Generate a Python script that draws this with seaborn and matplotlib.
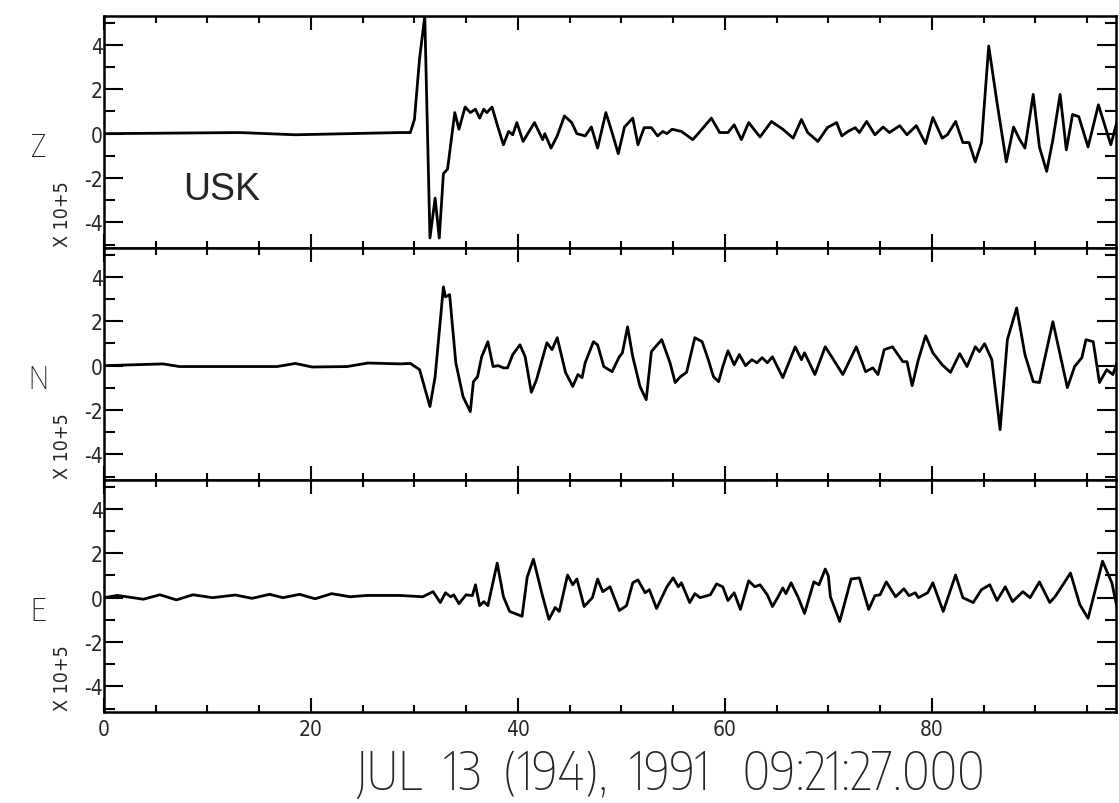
import matplotlib
matplotlib.use("Agg")
import numpy as np
import pandas as pd
import matplotlib.pyplot as plt
import seaborn as sns
from matplotlib.ticker import MultipleLocator
from matplotlib import font_manager as fm

# ---------------- data ----------------
t_z = [0, 13.1, 18.5, 28.6, 29.6, 30.0, 30.5, 31.0, 31.5, 32.0, 32.4, 32.8, 33.2, 33.9,
       34.3, 34.9, 35.4, 35.9, 36.3, 36.7, 37.0, 37.5, 38.0, 38.6, 39.1, 39.5, 39.9,
       40.5, 41.6, 42.4, 42.6, 43.2, 43.8, 44.5, 45.2, 45.7, 46.5, 47.1, 47.7, 48.5,
       49.1, 49.7, 50.3, 51.1, 51.6, 52.2, 52.9, 53.5, 54.0, 54.4, 54.9, 55.8, 56.9,
       57.6, 58.7, 59.5, 60.3, 60.9, 61.6, 62.3, 63.4, 64.5, 65.6, 66.6, 67.4, 68.0,
       69.0, 69.9, 70.8, 71.3, 71.9, 72.6, 73.0, 73.7, 74.5, 75.3, 75.9, 76.9, 77.6,
       78.5, 79.4, 80.1, 81.0, 81.5, 82.3, 83.0, 83.6, 84.2, 84.8, 85.5, 86.3, 87.2,
       87.9, 88.5, 89.0, 89.8, 90.4, 91.1, 91.7, 92.4, 93.0, 93.6, 94.2, 95.1, 96.1,
       97.3, 97.9]
z_amp = [0, 0.05, -0.05, 0.05, 0.05, 0.64, 3.4, 5.3, -4.7, -2.9, -4.7, -1.8, -1.6, 0.95,
         0.2, 1.2, 0.95, 1.1, 0.7, 1.1, 0.95, 1.2, 0.4, -0.5, 0.1, -0.05, 0.5,
         -0.35, 0.5, -0.27, 0, -0.65, -0.1, 0.8, 0.5, 0, -0.1, 0.3, -0.65, 0.95,
         0.05, -0.9, 0.3, 0.7, -0.5, 0.27, 0.27, -0.1, 0.1, 0, 0.2, 0.1, -0.27,
         0.1, 0.7, 0.05, 0.05, 0.4, -0.27, 0.5, -0.15, 0.55, 0.2, -0.2, 0.64, 0.05,
         -0.35, 0.27, 0.5, -0.1, 0.1, 0.27, 0.05, 0.55, -0.05, 0.3, 0.05, 0.36, -0.05,
         0.36, -0.45, 0.73, -0.2, -0.05, 0.55, -0.4, -0.4, -1.27, -0.4, 3.95, 1.4, -1.27,
         0.3, -0.27, -0.65, 1.77, -0.6, -1.7, -0.27, 1.77, -0.73, 0.86, 0.77, -0.6, 1.3,
         -0.5, 0.55]

t_n = [0, 5.7, 7.3, 12.8, 16.7, 18.5, 20.1, 23.5, 25.5, 28.6, 29.6, 30.5, 31.5, 32.0,
       32.8, 33.0, 33.4, 34.0, 34.7, 35.4, 35.7, 36.1, 36.5, 37.1, 37.6, 38.1, 38.6,
       39.0, 39.5, 40.2, 40.7, 41.3, 41.8, 42.8, 43.3, 43.8, 44.6, 45.3, 45.8, 46.2,
       46.5, 47.3, 47.7, 48.3, 49.1, 49.8, 50.1, 50.6, 51.1, 51.8, 52.4, 52.9, 53.2,
       53.9, 54.7, 55.2, 55.7, 56.3, 57.1, 57.8, 58.4, 58.9, 59.4, 59.8, 60.3, 60.9,
       61.4, 62.0, 62.6, 63.1, 63.6, 64.1, 64.6, 65.6, 66.8, 67.4, 67.7, 68.7, 69.7,
       70.5, 71.4, 72.7, 73.6, 74.3, 74.8, 75.4, 76.2, 77.2, 77.6, 78.1, 78.7, 79.4,
       80.1, 81.0, 81.8, 82.7, 83.4, 84.2, 84.6, 85.1, 85.8, 86.6, 87.3, 88.2, 89.0,
       89.8, 90.4, 91.7, 93.1, 93.8, 94.5, 94.9, 95.6, 96.2, 96.9, 97.5, 98.0]
n_amp = [0, 0.08, -0.04, -0.04, -0.04, 0.1, -0.06, -0.04, 0.12, 0.08, 0.1, -0.18, -1.84, -0.5,
         3.55, 3.1, 3.2, 0.13, -1.4, -2.07, -0.72, -0.5, 0.4, 1.08, -0.04, 0, -0.1,
         -0.1, 0.5, 0.94, 0.4, -1.2, -0.63, 1.03, 0.72, 1.26, -0.3, -0.94, -0.4, -0.54,
         0.13, 1.08, 0.94, -0.04, -0.27, 0.4, 0.58, 1.75, 0.4, -0.94, -1.53, 0.63, 0.8,
         1.17, 0.13, -0.76, -0.5, -0.3, 1.26, 1.08, 0.27, -0.5, -0.72, -0.04, 0.67, 0.04,
         0.5, 0, 0.27, 0.13, 0.36, 0.13, 0.4, -0.54, 0.85, 0.27, 0.58, -0.4, 0.85,
         0.27, -0.4, 0.85, -0.27, -0.1, -0.4, 0.72, 0.85, 0.18, 0.18, -0.9, 0.27, 1.35,
         0.58, 0.04, -0.3, 0.54, -0.04, 0.85, 0.63, 0.99, 0.27, -2.88, 1.17, 2.6, 0.5,
         -0.72, -0.76, 1.98, -0.99, -0.04, 0.36, 1.17, 1.08, -0.76, -0.18, -0.4, 0.27]

t_e = [0, 1.3, 3.8, 5.4, 7.0, 8.6, 10.5, 12.7, 14.3, 16.0, 17.3, 18.9, 20.4, 22.0,
       23.8, 25.4, 28.6, 30.8, 31.8, 32.5, 33.0, 33.5, 33.8, 34.3, 35.0, 35.6, 35.9,
       36.3, 36.7, 37.1, 38.0, 38.6, 39.2, 40.4, 40.9, 41.5, 42.4, 43.0, 43.6, 44.0,
       44.8, 45.3, 45.7, 46.4, 47.2, 47.7, 48.2, 48.9, 49.8, 50.5, 51.1, 51.6, 52.3,
       52.7, 53.4, 54.4, 55.0, 55.5, 55.8, 56.6, 57.1, 57.6, 58.6, 59.2, 59.8, 60.3,
       60.9, 61.5, 62.3, 62.9, 63.4, 64.1, 64.6, 65.1, 65.6, 65.9, 66.4, 67.1, 67.7,
       68.6, 69.1, 69.7, 70.0, 70.2, 71.1, 72.2, 73.0, 73.9, 74.5, 75.0, 75.6, 76.5,
       77.3, 77.8, 78.4, 78.7, 79.6, 80.1, 81.1, 82.3, 83.0, 84.0, 84.8, 85.6, 86.3,
       87.1, 87.8, 88.8, 89.5, 90.4, 91.4, 91.9, 92.6, 93.4, 94.3, 95.1, 96.5, 97.4,
       98.0]
e_amp = [0, 0.1, -0.07, 0.13, -0.1, 0.13, 0, 0.12, -0.03, 0.15, 0, 0.15, -0.05, 0.18,
         0.04, 0.1, 0.1, 0.04, 0.27, -0.22, 0.22, 0.04, 0.13, -0.27, 0.13, 0.09, 0.58,
         -0.36, -0.18, -0.36, 1.56, 0.04, -0.62, -0.84, 0.93, 1.73, 0.04, -0.98, -0.44, -0.62,
         1.02, 0.58, 0.84, -0.4, 0, 0.84, 0.27, 0.49, -0.58, -0.36, 0.67, 0.8, 0.22,
         0.36, -0.49, 0.49, 0.89, 0.49, 0.67, -0.22, 0.18, 0, 0.13, 0.62, 0.49, -0.13,
         0.22, -0.53, 0.76, 0.49, 0.58, 0.13, -0.4, 0, 0.44, 0.18, 0.67, 0, -0.71,
         0.71, 0.58, 1.29, 0.98, 0.04, -1.07, 0.84, 0.89, -0.53, 0.09, 0.13, 0.71, 0.04,
         0.4, 0.09, 0.22, 0, 0.22, 0.67, -0.62, 1.02, 0, -0.22, 0.36, 0.58, -0.13,
         0.49, -0.18, 0.27, 0, 0.71, -0.22, 0.04, 0.53, 1.11, -0.31, -0.93, 1.64, 0.67,
         -0.67]

components = ["Z", "N", "E"]
x_ticks = [0, 20, 40, 60, 80]
y_ticks = [-4, -2, 0, 2, 4]
station = "USK"
title = "JUL  13  (194),  1991   09:21:27.000"
scale_label = "X 10+5"

assert len(t_z) == len(z_amp) and len(t_n) == len(n_amp) and len(t_e) == len(e_amp)

frames = {
    "Z": pd.DataFrame({"t": t_z, "amp": z_amp}),
    "N": pd.DataFrame({"t": t_n, "amp": n_amp}),
    "E": pd.DataFrame({"t": t_e, "amp": e_amp}),
}

# ---------------- style ----------------
sns.set_style("ticks")


def _is_narrow(f):
    if "Narrow" in f.name or "Condensed" in f.name:
        return True
    st = f.stretch
    if isinstance(st, str):
        return "condensed" in st
    return isinstance(st, (int, float)) and st < 500


def _w(f):
    w = f.weight
    if isinstance(w, str):
        return fm.weight_dict.get(w, 400)
    return int(w)


cands = [f for f in fm.fontManager.ttflist if _is_narrow(f)]
if cands:
    regular = sorted(cands, key=lambda f: abs(_w(f) - 400))[0]
    light = sorted(cands, key=lambda f: _w(f))[0]
    narrow_family = regular.name
    narrow_stretch = regular.stretch
    light_family, light_weight, light_stretch = light.name, _w(light), light.stretch
else:
    narrow_family, narrow_stretch = "DejaVu Sans", "normal"
    light_family, light_weight, light_stretch = "DejaVu Sans", 400, "normal"

narrow = [narrow_family, "DejaVu Sans"]
plt.rcParams["font.family"] = narrow
plt.rcParams["font.stretch"] = narrow_stretch
plt.rcParams["axes.unicode_minus"] = False

W, H = 1119, 804
fig = plt.figure(figsize=(W / 100, H / 100), dpi=100)
fig.patch.set_facecolor("white")

left_px, right_px = 104, 1116
top_px, bot_px = 17, 713
ph = (bot_px - top_px) / 3.0

axes = []
for i, comp in enumerate(components):
    bottom = 1 - (top_px + (i + 1) * ph) / H
    ax = fig.add_axes([left_px / W, bottom, (right_px - left_px) / W, ph / H])
    axes.append(ax)
    sns.lineplot(data=frames[comp], x="t", y="amp", ax=ax, color="black",
                 linewidth=2.0, sort=False, estimator=None,
                 solid_joinstyle="round", solid_capstyle="round")
    ax.set_xlim(0, 97.8)
    ax.set_ylim(-5.15, 5.3)
    ax.set_xlabel("")
    ax.set_ylabel("")
    ax.set_xticks(x_ticks)
    ax.xaxis.set_minor_locator(MultipleLocator(5))
    ax.set_yticks(y_ticks)
    ax.set_yticklabels([str(v) for v in y_ticks])
    ax.yaxis.set_minor_locator(MultipleLocator(1))
    ax.tick_params(axis="both", which="both", direction="in", top=True, right=True,
                   color="black", width=1.5)
    ax.tick_params(axis="x", which="major", length=10)
    ax.tick_params(axis="x", which="minor", length=5)
    ax.tick_params(axis="y", which="major", length=14, labelsize=15, pad=1)
    ax.tick_params(axis="y", which="minor", length=8)
    if i < 2:
        ax.tick_params(axis="x", labelbottom=False)
    else:
        ax.tick_params(axis="x", labelsize=15, pad=5)
    for s in ax.spines.values():
        s.set_linewidth(1.8)
        s.set_color("black")
    ax.set_facecolor("white")

    zero_y = 1 - (top_px + i * ph + ph * 0.52) / H
    fig.text(38 / W, zero_y - 8 / H, comp, fontsize=23, ha="center", va="center",
             family=[light_family, "DejaVu Sans"], fontweight=light_weight,
             fontstretch=light_stretch)
    fig.text(62 / W, bottom + 2 / H, scale_label, fontsize=14, rotation=90,
             ha="center", va="bottom")

axes[0].text(7.6, -2.5, station, fontsize=27, ha="left", va="center",
             family=["Liberation Sans", "DejaVu Sans"], stretch="normal")

ttl = fig.text(670 / W, 1 - 775 / H, title, fontsize=38, ha="center", va="center",
               family=[light_family, "DejaVu Sans"], fontweight=light_weight,
               fontstretch=light_stretch)
# fit the title to the width it takes in the original (about 628 px)
fig.canvas.draw()
r = fig.canvas.get_renderer()
wpx = ttl.get_window_extent(r).width
new_fs = 38 * 628.0 / wpx
ttl.set_fontsize(min(max(new_fs, 28), 44))

fig.savefig("out.png", dpi=100, facecolor="white")
